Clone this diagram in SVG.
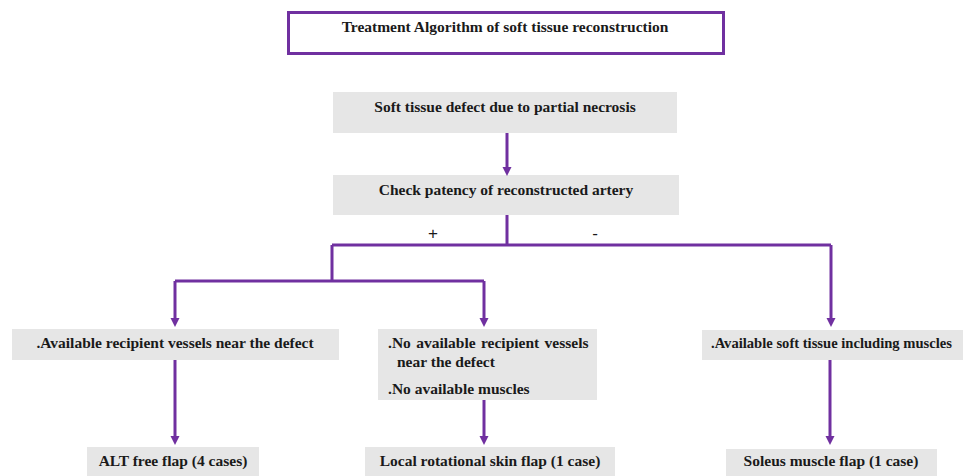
<svg xmlns="http://www.w3.org/2000/svg" width="963" height="476" viewBox="0 0 963 476">
<defs>
<marker id="ah" markerUnits="userSpaceOnUse" markerWidth="10" markerHeight="10" viewBox="0 0 10 10" refX="4" refY="4.5" orient="auto">
<path d="M0,0 L9,4.5 L0,9 z" fill="#7030A0"/>
</marker>
<style>
.box{fill:#e6e6e6;}
.t{font-family:"Liberation Serif","Times New Roman",serif;font-weight:bold;font-size:15.5px;fill:#1a1a1a;}
.c{text-anchor:middle;}
.ln{fill:none;stroke:#7030A0;stroke-width:3;}
.sg{font-family:"Liberation Sans",Arial,sans-serif;font-size:17px;fill:#1a1a1a;text-anchor:middle;}
</style>
</defs>
<rect width="963" height="476" fill="#ffffff"/>
<g id="title">
<rect x="288.5" y="12.5" width="435" height="41" fill="#ffffff" stroke="#7030A0" stroke-width="3"/>
<text class="t c" x="505" y="32">Treatment Algorithm of soft tissue reconstruction</text>
</g>
<g id="defect">
<rect class="box" x="333" y="92" width="344" height="41"/>
<text class="t c" x="505" y="112">Soft tissue defect due to partial necrosis</text>
</g>
<g id="patency">
<rect class="box" x="333" y="175" width="346" height="40"/>
<text class="t c" x="506" y="195">Check patency of reconstructed artery</text>
</g>
<g id="vessels">
<rect class="box" x="12" y="329" width="327" height="31"/>
<text class="t c" x="175" y="348">.Available recipient vessels near the defect</text>
</g>
<g id="novessels">
<rect class="box" x="378" y="329" width="219" height="71"/>
<text class="t" x="388" y="348" word-spacing="1.5">.No available recipient  vessels</text>
<text class="t" x="397" y="367">near the defect</text>
<text class="t" x="388" y="394">.No available muscles</text>
</g>
<g id="softtissue">
<rect class="box" x="702" y="330" width="261" height="30"/>
<text class="t" x="711" y="348" style="font-size:14.6px">.Available soft tissue including muscles</text>
</g>
<g id="alt">
<rect class="box" x="87" y="447" width="172" height="29"/>
<text class="t c" x="173" y="466">ALT free flap (4 cases)</text>
</g>
<g id="local">
<rect class="box" x="365" y="447" width="250" height="29"/>
<text class="t c" x="490" y="466">Local rotational skin flap (1 case)</text>
</g>
<g id="soleus">
<rect class="box" x="726" y="449" width="211" height="27"/>
<text class="t c" x="831" y="466">Soleus muscle flap (1 case)</text>
</g>
<g id="labels">
<text class="sg" x="433" y="239">+</text>
<text class="sg" x="595" y="239">-</text>
</g>
<g id="connectors">
<path class="ln" d="M507,133 V171" marker-end="url(#ah)"/>
<path class="ln" d="M507,215 V245 M332,245 H831 M332,245 V281 M175,281 H484"/>
<path class="ln" d="M175,281 V322" marker-end="url(#ah)"/>
<path class="ln" d="M484,281 V322" marker-end="url(#ah)"/>
<path class="ln" d="M831,245 V322" marker-end="url(#ah)"/>
<path class="ln" d="M175,360 V440" marker-end="url(#ah)"/>
<path class="ln" d="M484,400 V440" marker-end="url(#ah)"/>
<path class="ln" d="M830,360 V440" marker-end="url(#ah)"/>
</g>
</svg>
